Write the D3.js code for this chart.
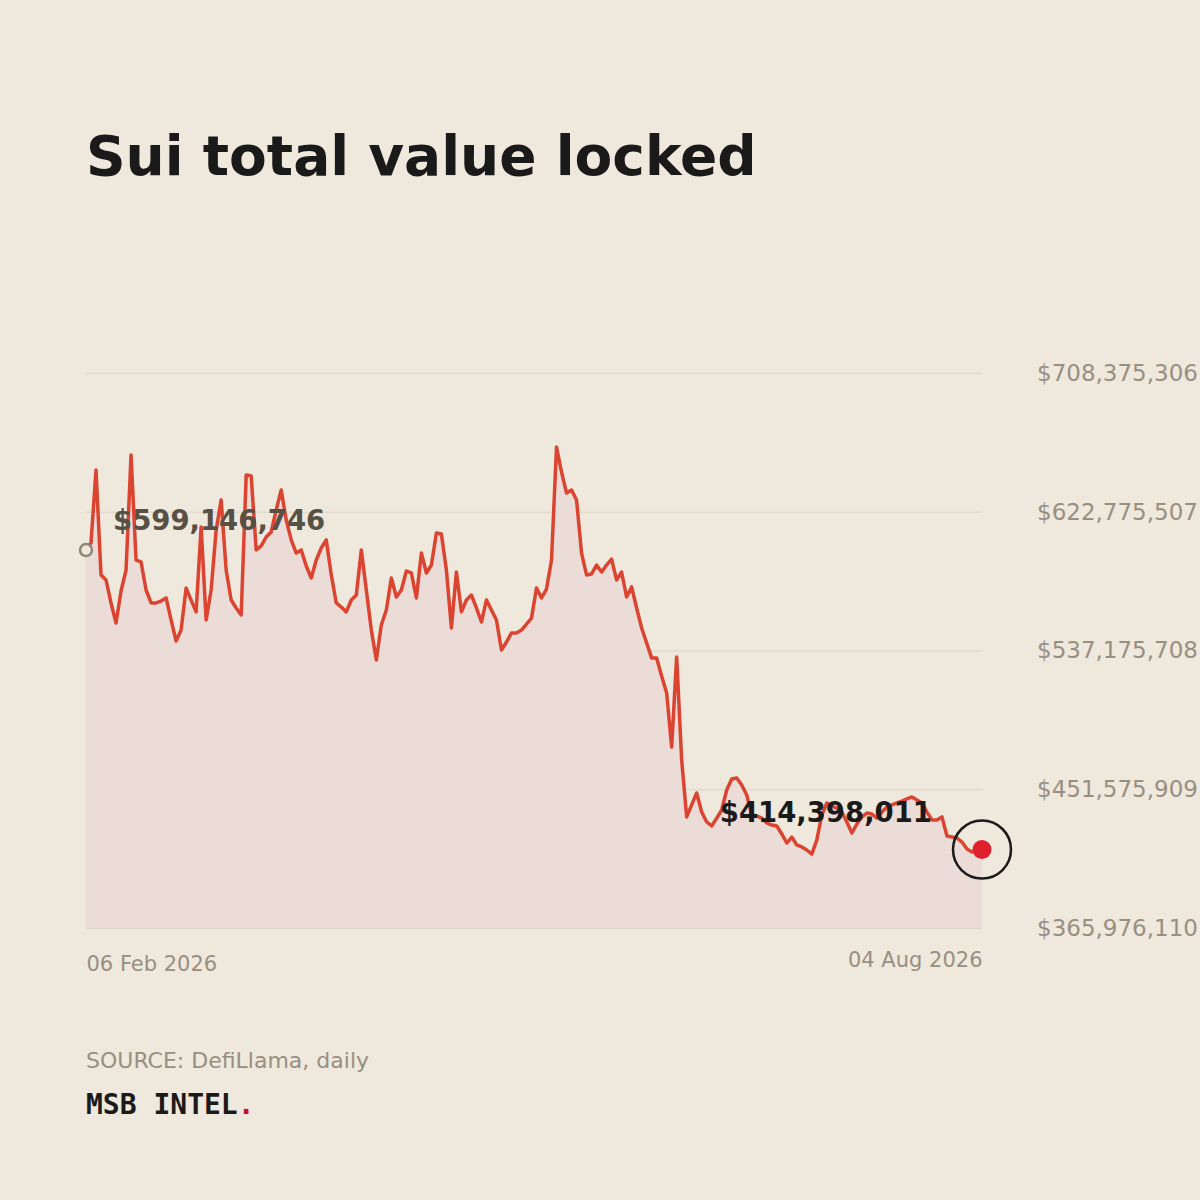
<!DOCTYPE html>
<html>
<head>
<meta charset="utf-8">
<script src="https://cdn.jsdelivr.net/npm/d3@7"></script>
<style>
  html, body { margin: 0; padding: 0; background: #EFE8DC; }
  svg { display: block; font-family: "DejaVu Sans", sans-serif; }
</style>
</head>
<body>
<svg id="chart" width="1200" height="1200"></svg>
<script>
// ---- data ----
const title = "Sui total value locked";
const startDate = "2026-02-06";
const tvlMillions = [
  599.146746, 603.5, 648.5, 583.8, 580.7, 566.5, 554.1, 573.9, 586.8, 657.8,
  593.0, 591.8, 574.5, 566.5, 566.5, 567.7, 569.6, 556.0, 543.0, 549.8,
  575.7, 568.3, 561.0, 613.4, 556.0, 574.5, 611.5, 630.0, 586.8, 568.3,
  563.4, 559.1, 645.4, 644.8, 599.2, 601.7, 607.2, 610.3, 623.9, 636.2,
  617.7, 605.4, 597.3, 599.2, 589.3, 581.9, 593.0, 600.4, 605.4, 583.8,
  566.5, 564.0, 561.0, 568.3, 571.4, 599.2, 574.5, 549.8, 531.3, 552.9,
  562.2, 581.9, 570.2, 574.5, 586.2, 585.0, 569.6, 597.3, 585.0, 589.9,
  609.7, 609.1, 586.8, 551.1, 585.6, 561.0, 568.3, 571.4, 563.4, 554.8,
  568.3, 562.2, 556.0, 537.5, 542.4, 548.0, 548.0, 549.8, 553.5, 557.2,
  575.7, 569.6, 575.1, 593.0, 662.7, 647.3, 634.3, 636.2, 630.0, 597.3,
  583.8, 584.4, 589.9, 585.6, 589.9, 593.6, 580.7, 585.6, 570.2, 576.4,
  563.4, 551.1, 541.8, 532.6, 532.6, 521.4, 511.0, 477.6, 533.2, 469.6,
  434.5, 441.9, 449.3, 437.5, 431.4, 428.9, 433.8, 438.8, 451.1, 457.9,
  458.5, 454.2, 448.0, 435.7, 435.1, 433.8, 430.8, 429.5, 428.9, 424.0,
  418.4, 422.1, 417.2, 416.0, 414.1, 411.6, 420.3, 435.7, 443.1, 441.2,
  440.0, 437.5, 431.4, 424.6, 430.1, 434.5, 436.9, 436.3, 433.8, 437.5,
  440.6, 441.9, 443.1, 444.3, 445.6, 446.8, 445.0, 443.1, 437.5, 432.6,
  432.6, 434.5, 422.7, 422.1, 421.5, 419.0, 414.7, 412.9, 413.5, 414.398011
];
const yTickValues = [365976110, 451575909, 537175708, 622775507, 708375306];
const sourceText = "SOURCE: DefiLlama, daily";
const brandText = "MSB INTEL";

(function () {
  const parse = d3.timeParse("%Y-%m-%d");
  const t0 = parse(startDate);
  const data = tvlMillions.map((v, i) => ({ date: d3.timeDay.offset(t0, i), value: v * 1e6 }));

  const svg = d3.select("#chart");
  const mL = 86, mR = 982, mT = 373, mB = 928;
  const SANS = '"DejaVu Sans", sans-serif';
  const MONO = '"DejaVu Sans Mono", monospace';

  const x = d3.scaleTime()
    .domain(d3.extent(data, d => d.date))
    .range([mL, mR]);
  const y = d3.scaleLinear()
    .domain([yTickValues[0], yTickValues[yTickValues.length - 1]])
    .range([mB, mT]);

  const grey = "#988F82";

  svg.append("text")
    .attr("x", 86).attr("y", 175)
    .style("font-family", SANS)
    .attr("font-size", 55).attr("font-weight", "bold")
    .attr("fill", "#1B1A1A")
    .text(title);

  const fmt = v => "$" + d3.format(",")(Math.round(v));
  const yAxis = svg.append("g")
    .attr("transform", `translate(${mR},0)`)
    .call(d3.axisRight(y).tickValues(yTickValues).tickFormat(fmt)
      .tickSize(-(mR - mL)).tickPadding(55));
  yAxis.select(".domain").remove();
  yAxis.selectAll(".tick line").attr("stroke", "#DBD3C6").attr("stroke-width", 1);
  yAxis.selectAll(".tick text")
    .attr("fill", grey).attr("font-size", 23)
    .style("font-family", SANS);

  const area = d3.area().x(d => x(d.date)).y0(mB).y1(d => y(d.value));
  const line = d3.line().x(d => x(d.date)).y(d => y(d.value));

  svg.append("path").datum(data)
    .attr("d", area)
    .attr("fill", "#EBDCD7");

  svg.append("path").datum(data)
    .attr("d", line)
    .attr("fill", "none")
    .attr("stroke", "#DB4430")
    .attr("stroke-width", 3.5)
    .attr("stroke-linejoin", "round");

  const first = data[0], last = data[data.length - 1];
  const xAxis = svg.append("g")
    .attr("transform", `translate(0,${mB})`)
    .call(d3.axisBottom(x).tickValues([first.date, last.date])
      .tickFormat(d3.timeFormat("%d %b %Y")).tickSize(0).tickPadding(28));
  xAxis.select(".domain").remove();
  xAxis.selectAll(".tick text")
    .attr("fill", grey).attr("font-size", 21).style("font-family", SANS)
    .attr("text-anchor", (d, i) => i === 0 ? "start" : "end")
    .attr("y", (d, i) => i === 0 ? 28 : 24);

  svg.append("circle")
    .attr("cx", x(first.date)).attr("cy", y(first.value))
    .attr("r", 6).attr("fill", "#EFE8DC")
    .attr("stroke", "#8E8676").attr("stroke-width", 2.5);
  svg.append("text")
    .attr("x", x(first.date) + 27).attr("y", y(first.value) - 20)
    .style("font-family", SANS)
    .attr("font-size", 27.5).attr("font-weight", "bold")
    .attr("fill", "#575044")
    .text(fmt(first.value));

  svg.append("text")
    .attr("x", x(last.date) - 50).attr("y", y(last.value) - 28)
    .attr("text-anchor", "end")
    .style("font-family", SANS)
    .attr("font-size", 27.5).attr("font-weight", "bold")
    .attr("fill", "#1B1A1A")
    .text(fmt(last.value));

  svg.append("circle")
    .attr("cx", x(last.date)).attr("cy", y(last.value))
    .attr("r", 29).attr("fill", "none")
    .attr("stroke", "#1B1A1A").attr("stroke-width", 2.5);
  svg.append("circle")
    .attr("cx", x(last.date)).attr("cy", y(last.value))
    .attr("r", 9.5).attr("fill", "#E1202D");

  svg.append("text")
    .attr("x", 86).attr("y", 1068)
    .style("font-family", SANS)
    .attr("font-size", 22).attr("fill", grey)
    .text(sourceText);
  const brand = svg.append("text")
    .attr("x", 86).attr("y", 1114)
    .style("font-family", MONO)
    .attr("font-size", 28).attr("font-weight", "bold")
    .attr("fill", "#1B1A1A");
  brand.append("tspan").text(brandText);
  brand.append("tspan").attr("fill", "#C8102E").text(".");
})();
</script>
</body>
</html>
